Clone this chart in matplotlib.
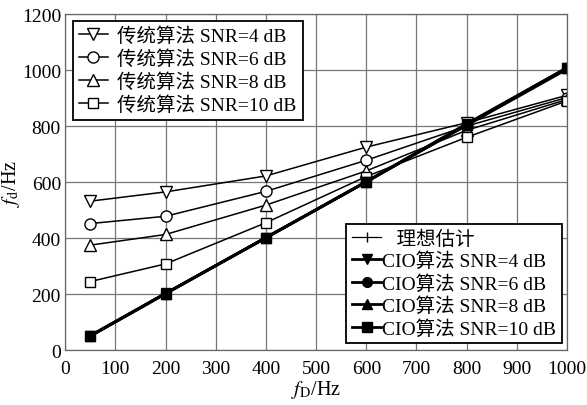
import numpy as np
import matplotlib
matplotlib.use('Agg')
import matplotlib.pyplot as plt

plt.rcParams['font.family'] = ['Liberation Serif', 'Noto Sans CJK SC']
plt.rcParams['mathtext.fontset'] = 'stix'

# Doppler frequency points
fD = [50, 200, 400, 600, 800, 1000]

# conventional algorithm estimates
trad_4 = [532, 565, 622, 725, 812, 910]
trad_6 = [452, 478, 567, 678, 800, 902]
trad_8 = [375, 413, 518, 640, 785, 895]
trad_10 = [245, 308, 455, 620, 760, 890]

# ideal and CIO algorithm estimates
ideal = [50, 200, 400, 600, 800, 1000]
cio_4 = [52, 203, 402, 602, 808, 1008]
cio_6 = [51, 202, 401, 601, 806, 1007]
cio_8 = [51, 202, 401, 601, 805, 1007]
cio_10 = [50, 202, 402, 601, 804, 1008]

fig = plt.figure(figsize=(5.87, 4.06), dpi=100)
ax = fig.add_axes([0.111, 0.135, 0.855, 0.828])

h1 = []
h1 += ax.plot(fD, trad_4, '-v', color='k', lw=1.1, ms=8, mfc='white', mec='k', label='传统算法 SNR=4 dB')
h1 += ax.plot(fD, trad_6, '-o', color='k', lw=1.1, ms=8, mfc='white', mec='k', label='传统算法 SNR=6 dB')
h1 += ax.plot(fD, trad_8, '-^', color='k', lw=1.1, ms=8, mfc='white', mec='k', label='传统算法 SNR=8 dB')
h1 += ax.plot(fD, trad_10, '-s', color='k', lw=1.1, ms=7, mfc='white', mec='k', label='传统算法 SNR=10 dB')

h2 = []
h2 += ax.plot(fD, ideal, '-|', color='k', lw=0.9, ms=7, label='   理想估计')
h2 += ax.plot(fD, cio_4, '-v', color='k', lw=2.0, ms=7, label='CIO算法 SNR=4 dB')
h2 += ax.plot(fD, cio_6, '-o', color='k', lw=2.0, ms=7, label='CIO算法 SNR=6 dB')
h2 += ax.plot(fD, cio_8, '-^', color='k', lw=2.0, ms=7, label='CIO算法 SNR=8 dB')
h2 += ax.plot(fD, cio_10, '-s', color='k', lw=2.0, ms=7, label='CIO算法 SNR=10 dB')

ax.set_xlim(0, 1000)
ax.set_ylim(0, 1200)
ax.set_xticks(np.arange(0, 1001, 100))
ax.set_yticks(np.arange(0, 1201, 200))
ax.tick_params(labelsize=14, length=0)
ax.tick_params(axis='x', pad=7)
ax.tick_params(axis='y', pad=3)
ax.grid(True, color='#777777', lw=0.9)
ax.set_axisbelow(True)
for s in ax.spines.values():
    s.set_color('#666666')
    s.set_linewidth(0.9)

ax.set_xlabel(r'$f_{\mathrm{D}}$/Hz', fontsize=14.5, labelpad=1)
ax.set_ylabel(r'$f_{\mathrm{d}}$/Hz', fontsize=14.5)
ax.yaxis.set_label_coords(-0.085, 0.5)

leg1 = ax.legend(handles=h1, loc='upper left', bbox_to_anchor=(0.015, 0.98), fontsize=14,
                 frameon=True, fancybox=False, edgecolor='k', framealpha=1,
                 handlelength=1.5, handletextpad=0.5, labelspacing=0.22, borderpad=0.3, borderaxespad=0)
leg1.get_frame().set_linewidth(1.3)
ax.add_artist(leg1)

leg2 = ax.legend(handles=h2, loc='lower right', bbox_to_anchor=(0.99, 0.02), fontsize=14,
                 frameon=True, fancybox=False, edgecolor='k', framealpha=1,
                 handlelength=1.5, handletextpad=0.05, labelspacing=0.2, borderpad=0.3, borderaxespad=0)
leg2.get_frame().set_linewidth(1.3)

fig.savefig('out.png', dpi=100)
